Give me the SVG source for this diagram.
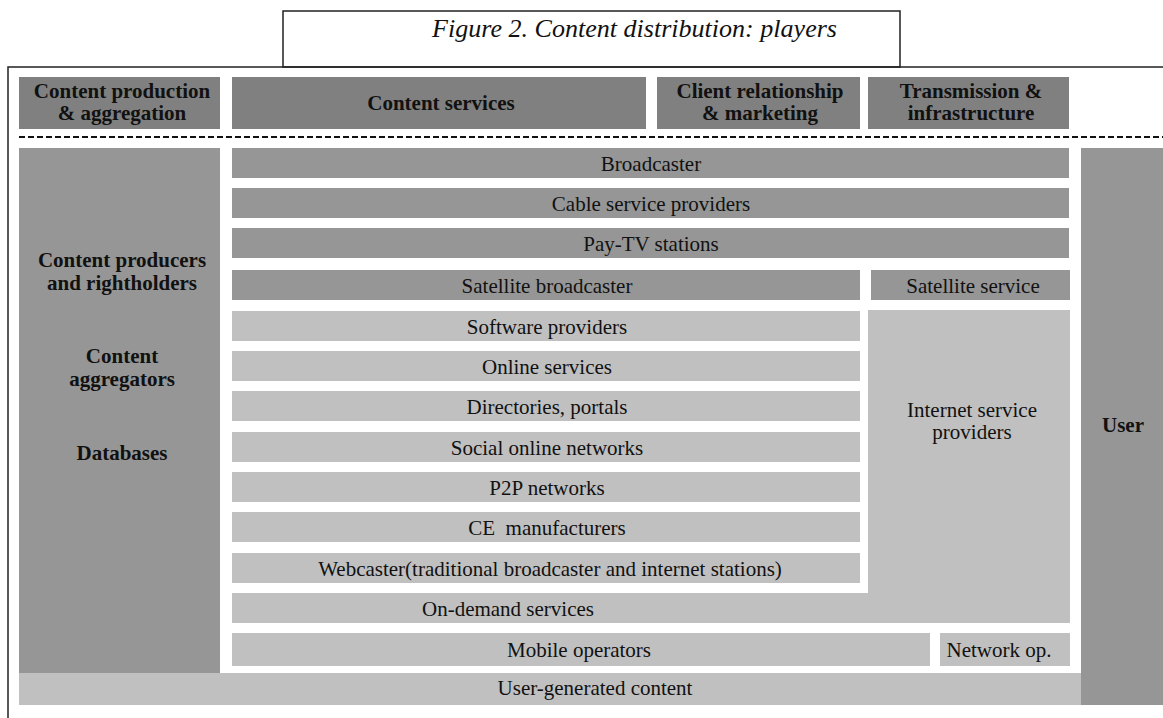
<svg xmlns="http://www.w3.org/2000/svg" width="1163" height="718" viewBox="0 0 1163 718">
<style>
.hd{fill:#808080}
.md{fill:#969696}
.lt{fill:#c0c0c0}
.b{font-family:"Liberation Serif","Times New Roman",serif;font-weight:bold;font-size:21px;fill:#111;text-anchor:middle}
.r{font-family:"Liberation Serif","Times New Roman",serif;font-size:21px;fill:#111;text-anchor:middle}
.ttl{font-family:"Liberation Serif","Times New Roman",serif;font-style:italic;font-size:26px;fill:#111}
.frame{fill:none;stroke:#222;stroke-width:1.5}
</style>
<rect width="1163" height="718" fill="#fff"/>
<g id="title">
<rect class="frame" x="283" y="11" width="617" height="56" fill="#fff"/>
<text class="ttl" x="432" y="37" textLength="405" lengthAdjust="spacingAndGlyphs">Figure 2. Content distribution: players</text>
</g>
<g id="frame">
<path class="frame" d="M8,718 V67 H1163"/>
</g>
<g id="h-production"><rect class="hd" x="19" y="77" width="201" height="52"/><text class="b" x="122" y="98">Content production</text><text class="b" x="122" y="120">&amp; aggregation</text></g>
<g id="h-services"><rect class="hd" x="232" y="77" width="414" height="52"/><text class="b" x="441" y="110">Content services</text></g>
<g id="h-client"><rect class="hd" x="657" y="77" width="203" height="52"/><text class="b" x="760" y="98">Client relationship</text><text class="b" x="760" y="120">&amp; marketing</text></g>
<g id="h-transmission"><rect class="hd" x="868" y="77" width="201" height="52"/><text class="b" x="971" y="98">Transmission &amp;</text><text class="b" x="971" y="120">infrastructure</text></g>
<g id="divider"><line x1="19" y1="137" x2="1163" y2="137" stroke="#111" stroke-width="2" stroke-dasharray="6 3"/></g>
<g id="producers"><rect class="md" x="19" y="148" width="201" height="526"/>
<text class="b" x="122" y="267">Content producers</text><text class="b" x="122" y="290">and rightholders</text>
<text class="b" x="122" y="363">Content</text><text class="b" x="122" y="386">aggregators</text>
<text class="b" x="122" y="460">Databases</text></g>
<g id="broadcaster"><rect class="md" x="232" y="148" width="837" height="30"/><text class="r" x="651" y="171">Broadcaster</text></g>
<g id="cable"><rect class="md" x="232" y="188" width="837" height="30"/><text class="r" x="651" y="211">Cable service providers</text></g>
<g id="paytv"><rect class="md" x="232" y="228" width="837" height="30"/><text class="r" x="651" y="251">Pay-TV stations</text></g>
<g id="satbroadcaster"><rect class="md" x="232" y="270" width="628" height="30"/><text class="r" x="547" y="293">Satellite broadcaster</text></g>
<g id="satservice"><rect class="md" x="871" y="270" width="199" height="30"/><text class="r" x="973" y="293">Satellite service</text></g>
<g id="software"><rect class="lt" x="232" y="311" width="628" height="30"/><text class="r" x="547" y="334">Software providers</text></g>
<g id="online"><rect class="lt" x="232" y="351" width="628" height="30"/><text class="r" x="547" y="374">Online services</text></g>
<g id="directories"><rect class="lt" x="232" y="391" width="628" height="30"/><text class="r" x="547" y="414">Directories, portals</text></g>
<g id="social"><rect class="lt" x="232" y="432" width="628" height="30"/><text class="r" x="547" y="455">Social online networks</text></g>
<g id="p2p"><rect class="lt" x="232" y="472" width="628" height="30"/><text class="r" x="547" y="495">P2P networks</text></g>
<g id="ce"><rect class="lt" x="232" y="512" width="628" height="30"/><text class="r" x="547" y="535" xml:space="preserve">CE  manufacturers</text></g>
<g id="webcaster"><rect class="lt" x="232" y="553" width="628" height="30"/><text class="r" x="550" y="576">Webcaster(traditional broadcaster and internet stations)</text></g>
<g id="isp-ondemand"><path class="lt" d="M868,310 H1070 V623 H232 V593 H868 Z"/>
<text class="r" x="972" y="417">Internet service</text><text class="r" x="972" y="439">providers</text>
<text class="r" x="508" y="616">On-demand services</text></g>
<g id="mobile"><rect class="lt" x="232" y="633" width="698" height="33"/><text class="r" x="579" y="657">Mobile operators</text></g>
<g id="networkop"><rect class="lt" x="940" y="633" width="130" height="33"/><text class="r" x="999" y="657">Network op.</text></g>
<g id="ugc"><rect class="lt" x="19" y="673" width="1062" height="32"/><text class="r" x="595" y="695">User-generated content</text></g>
<g id="user"><rect class="md" x="1081" y="148" width="82" height="557"/><text class="b" x="1123" y="432">User</text></g>
</svg>
